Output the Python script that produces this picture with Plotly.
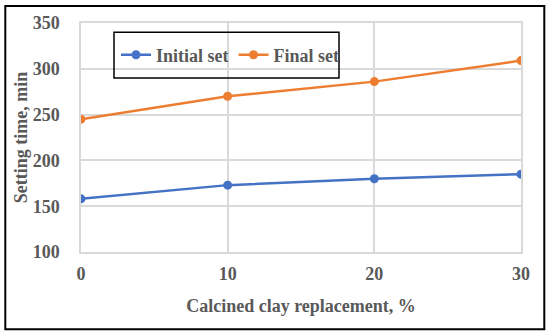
import plotly.graph_objects as go

replacement = [0, 10, 20, 30]
initial_set = [158, 173, 180, 185]
final_set = [245, 270, 286, 309]
x_ticks = [0, 10, 20, 30]
y_ticks = [100, 150, 200, 250, 300, 350]

W, H = 550, 335
L, R, T, B = 81, 521, 23, 252  # plot area in px

def px_x(p):
    return (p - L) / (R - L)

def px_y(p):
    return (B - p) / (B - T)

FAM = "Liberation Serif, Times New Roman, serif"
font_main = dict(family=FAM, size=18, color="#595959", weight="bold")

fig = go.Figure()
fig.add_trace(go.Scatter(x=replacement, y=initial_set, name="Initial set", mode="lines+markers",
                         line=dict(color="#4472C4", width=2.5), marker=dict(size=9, color="#4472C4")))
fig.add_trace(go.Scatter(x=replacement, y=final_set, name="Final set", mode="lines+markers",
                         line=dict(color="#ED7D31", width=2.5), marker=dict(size=9, color="#ED7D31")))

fig.update_layout(
    width=W, height=H,
    margin=dict(l=L, r=W - R, t=T, b=H - B, autoexpand=False),
    paper_bgcolor="white", plot_bgcolor="white",
    font=font_main,
    showlegend=True,
    legend=dict(orientation="h", x=px_x(116), y=px_y(55), yanchor="middle", xanchor="left",
                bgcolor="rgba(0,0,0,0)", borderwidth=0, font=font_main, itemwidth=30),
    xaxis=dict(range=[0, 30], tickvals=x_ticks, showgrid=True, gridcolor="#d9d9d9", gridwidth=1.5,
               showline=True, linecolor="#d9d9d9", linewidth=1.5, mirror=True, zeroline=False,
               ticks="", ticklabelstandoff=5, tickfont=font_main,
               title=dict(text="Calcined clay replacement, %", standoff=16, font=font_main),
               automargin=False),
    yaxis=dict(range=[100, 350], tickvals=y_ticks, showgrid=True, gridcolor="#d9d9d9", gridwidth=1.5,
               showline=True, linecolor="#d9d9d9", linewidth=1.5, mirror=True, zeroline=False,
               ticks="", ticklabelstandoff=16, tickfont=font_main,
               title=dict(text="Setting time, min", standoff=0, font=font_main),
               automargin=False),
    shapes=[
        dict(type="rect", xref="paper", yref="paper", x0=px_x(114), x1=px_x(339), y0=px_y(78), y1=px_y(32.3),
             line=dict(color="black", width=1.5), fillcolor="rgba(0,0,0,0)", layer="above"),
        dict(type="rect", xref="paper", yref="paper", x0=px_x(5.3), x1=px_x(544.3), y0=px_y(329.3), y1=px_y(6),
             line=dict(color="black", width=2), fillcolor="rgba(0,0,0,0)", layer="above"),
    ],
)

fig.write_html("out.html", config={"displayModeBar": False},
               post_script="document.body.style.margin='0';document.body.style.padding='0';")
